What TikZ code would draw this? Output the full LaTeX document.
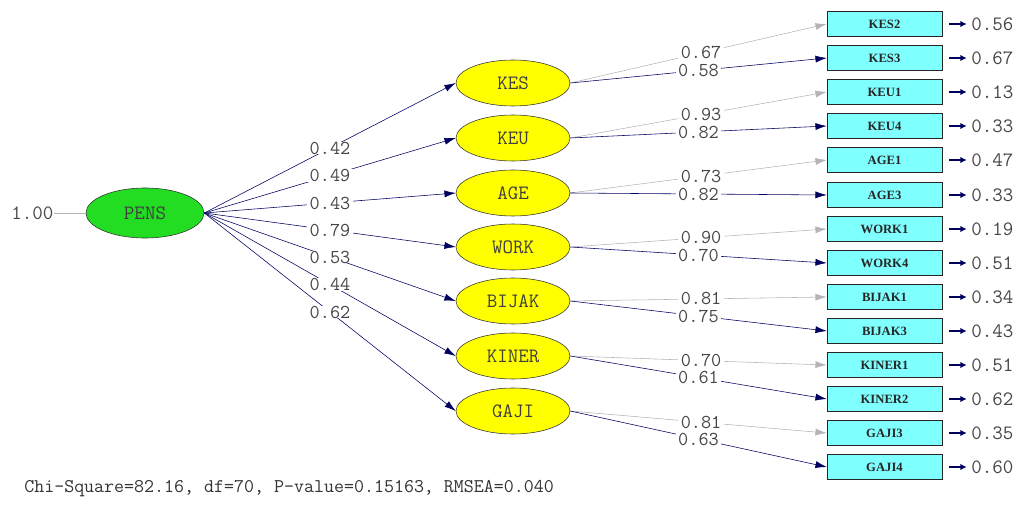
\documentclass[tikz,border=0pt]{standalone}
\usepackage{fontspec}
\newfontfamily\boxfont{Liberation Serif}
\usetikzlibrary{shapes.geometric,arrows.meta}
\definecolor{pathnavy}{RGB}{0,0,96}
\definecolor{fixgrey}{RGB}{180,180,180}
\definecolor{coefgrey}{RGB}{70,70,70}
\definecolor{latyellow}{RGB}{255,255,0}
\definecolor{pensgreen}{RGB}{34,221,34}
\definecolor{obscyan}{RGB}{128,255,255}
\tikzset{
    latent/.style={ellipse, draw=black!80, fill=latyellow, minimum width=2.85cm, minimum height=1.15cm, inner sep=0mm, font=\ttfamily\fontsize{14.5}{16}\selectfont, text=black!75}
}
\tikzset{
    observed/.style={rectangle, draw=black!85, fill=obscyan, minimum width=2.875cm, minimum height=0.625cm, inner sep=0mm, font=\boxfont\bfseries\fontsize{9}{10}\selectfont, text=black!85}
}
\tikzset{coef/.style={fill=white, inner xsep=0.6mm, inner ysep=0mm, font=\ttfamily\fontsize{14}{15}\selectfont, text=coefgrey}}
\tikzset{errval/.style={anchor=west, inner sep=0mm, font=\ttfamily\fontsize{14.5}{16}\selectfont, text=coefgrey}}
\tikzset{
    free/.style={draw=pathnavy, -{Latex[length=8pt,width=5pt]}},
    fixed/.style={draw=fixgrey, -{Latex[length=8pt,width=5pt]}},
    errpath/.style={draw=pathnavy, line width=1pt, -{Latex[length=4.5pt,width=4.5pt]}}
}

\begin{document}
\begin{tikzpicture}[x=0.025cm, y=-0.025cm]
  \useasboundingbox (0,0) rectangle (1021,511);

  \node (pens) [latent, fill=pensgreen, minimum width=2.95cm, minimum height=1.25cm] at (145,213) {PENS};
  \node (var) [errval] at (11,213) {1.00};
  \draw[fixgrey] (var.east) -- (pens.west);

  \node (kes) [latent] at (513,83) {KES};
  \node (keu) [latent] at (513,138) {KEU};
  \node (age) [latent] at (513,193) {AGE};
  \node (work) [latent] at (513,247) {WORK};
  \node (bijak) [latent] at (513,301) {BIJAK};
  \node (kiner) [latent] at (513,356) {KINER};
  \node (gaji) [latent] at (513,411) {GAJI};

  \node (kes2) [observed] at (884.5,24) {KES2};
  \node (kes3) [observed] at (884.5,58) {KES3};
  \node (keu1) [observed] at (884.5,92) {KEU1};
  \node (keu4) [observed] at (884.5,126) {KEU4};
  \node (age1) [observed] at (884.5,160) {AGE1};
  \node (age3) [observed] at (884.5,195) {AGE3};
  \node (work1) [observed] at (884.5,229) {WORK1};
  \node (work4) [observed] at (884.5,263) {WORK4};
  \node (bijak1) [observed] at (884.5,297) {BIJAK1};
  \node (bijak3) [observed] at (884.5,331) {BIJAK3};
  \node (kiner1) [observed] at (884.5,365) {KINER1};
  \node (kiner2) [observed] at (884.5,399) {KINER2};
  \node (gaji3) [observed] at (884.5,433) {GAJI3};
  \node (gaji4) [observed] at (884.5,467) {GAJI4};

  \draw[free] (pens.east) -- node[coef] {0.42} (kes.west);
  \draw[free] (pens.east) -- node[coef] {0.49} (keu.west);
  \draw[free] (pens.east) -- node[coef] {0.43} (age.west);
  \draw[free] (pens.east) -- node[coef] {0.79} (work.west);
  \draw[free] (pens.east) -- node[coef] {0.53} (bijak.west);
  \draw[free] (pens.east) -- node[coef] {0.44} (kiner.west);
  \draw[free] (pens.east) -- node[coef] {0.62} (gaji.west);

  \draw[fixed] (kes.east) -- node[coef, pos=0.51] {0.67} (kes2.west);
  \draw[free] (kes.east) -- node[coef] {0.58} (kes3.west);
  \draw[fixed] (keu.east) -- node[coef, pos=0.51] {0.93} (keu1.west);
  \draw[free] (keu.east) -- node[coef] {0.82} (keu4.west);
  \draw[fixed] (age.east) -- node[coef, pos=0.51] {0.73} (age1.west);
  \draw[free] (age.east) -- node[coef] {0.82} (age3.west);
  \draw[fixed] (work.east) -- node[coef, pos=0.51] {0.90} (work1.west);
  \draw[free] (work.east) -- node[coef] {0.70} (work4.west);
  \draw[fixed] (bijak.east) -- node[coef, pos=0.51] {0.81} (bijak1.west);
  \draw[free] (bijak.east) -- node[coef] {0.75} (bijak3.west);
  \draw[fixed] (kiner.east) -- node[coef, pos=0.51] {0.70} (kiner1.west);
  \draw[free] (kiner.east) -- node[coef] {0.61} (kiner2.west);
  \draw[fixed] (gaji.east) -- node[coef, pos=0.51] {0.81} (gaji3.west);
  \draw[free] (gaji.east) -- node[coef] {0.63} (gaji4.west);

  \node (d1) [errval] at (971,24) {0.56};
  \node (d2) [errval] at (971,58) {0.67};
  \node (d3) [errval] at (971,92) {0.13};
  \node (d4) [errval] at (971,126) {0.33};
  \node (d5) [errval] at (971,160) {0.47};
  \node (d6) [errval] at (971,195) {0.33};
  \node (d7) [errval] at (971,229) {0.19};
  \node (d8) [errval] at (971,263) {0.51};
  \node (d9) [errval] at (971,297) {0.34};
  \node (d10) [errval] at (971,331) {0.43};
  \node (d11) [errval] at (971,365) {0.51};
  \node (d12) [errval] at (971,399) {0.62};
  \node (d13) [errval] at (971,433) {0.35};
  \node (d14) [errval] at (971,467) {0.60};

  \draw[errpath] ([xshift=5]kes2.east) -- ([xshift=-3]d1.west);
  \draw[errpath] ([xshift=5]kes3.east) -- ([xshift=-3]d2.west);
  \draw[errpath] ([xshift=5]keu1.east) -- ([xshift=-3]d3.west);
  \draw[errpath] ([xshift=5]keu4.east) -- ([xshift=-3]d4.west);
  \draw[errpath] ([xshift=5]age1.east) -- ([xshift=-3]d5.west);
  \draw[errpath] ([xshift=5]age3.east) -- ([xshift=-3]d6.west);
  \draw[errpath] ([xshift=5]work1.east) -- ([xshift=-3]d7.west);
  \draw[errpath] ([xshift=5]work4.east) -- ([xshift=-3]d8.west);
  \draw[errpath] ([xshift=5]bijak1.east) -- ([xshift=-3]d9.west);
  \draw[errpath] ([xshift=5]bijak3.east) -- ([xshift=-3]d10.west);
  \draw[errpath] ([xshift=5]kiner1.east) -- ([xshift=-3]d11.west);
  \draw[errpath] ([xshift=5]kiner2.east) -- ([xshift=-3]d12.west);
  \draw[errpath] ([xshift=5]gaji3.east) -- ([xshift=-3]d13.west);
  \draw[errpath] ([xshift=5]gaji4.east) -- ([xshift=-3]d14.west);

  \node (fit) [anchor=west, inner sep=0mm, font=\ttfamily\fontsize{13.8}{16}\selectfont, text=black!80] at (24,489) {Chi-Square=82.16, df=70, P-value=0.15163, RMSEA=0.040};
\end{tikzpicture}
\end{document}
